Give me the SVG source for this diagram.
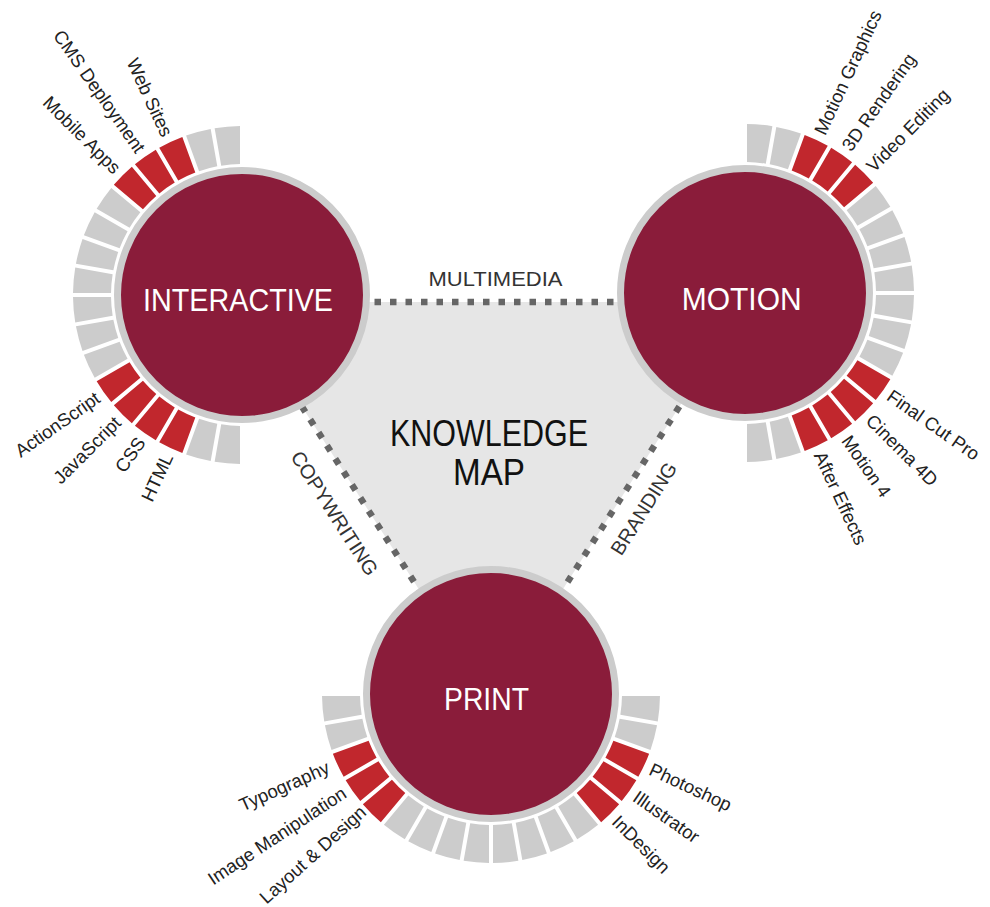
<svg xmlns="http://www.w3.org/2000/svg" xmlns:xlink="http://www.w3.org/1999/xlink" width="990" height="907" viewBox="0 0 990 907">
<style>
.hub{fill:#8a1c3a;stroke:#cccccc;stroke-width:7}
.hubtxt{font-family:"Liberation Sans",Arial,sans-serif;font-size:31px;fill:#ffffff;text-anchor:middle}
.g{fill:#cccccc}
.r{fill:#c1272d}
.lbl{font-family:"Liberation Sans",Arial,sans-serif;font-size:18.5px;fill:#222222}
.end{text-anchor:end}
.dash{stroke:#666666;stroke-width:6.5;stroke-dasharray:6.5 9;fill:none}
.edge{font-family:"Liberation Sans",Arial,sans-serif;font-size:20px;fill:#333333;text-anchor:middle}
.title{font-family:"Liberation Sans",Arial,sans-serif;font-size:36px;fill:#111111;text-anchor:middle}
</style>
<defs>
<path id="seg" d="M130.660 -9.425 L168.518 -12.737 A169 169 0 0 1 168.518 12.737 L130.660 9.425 A131 131 0 0 0 130.660 -9.425 Z"/>
</defs>
<rect width="990" height="907" fill="#ffffff"/>
<g id="connectors">
<polygon points="235,302 746,302 491,702" fill="#e6e6e6"/>
<line class="dash" x1="235" y1="302" x2="746" y2="302"/>
<line class="dash" x1="235" y1="302" x2="491" y2="702"/>
<line class="dash" x1="746" y1="302" x2="491" y2="702"/>
<text class="edge" x="495.5" y="285.7" textLength="134" lengthAdjust="spacingAndGlyphs">MULTIMEDIA</text>
<text class="edge" transform="translate(328.7 517) rotate(57.3)" x="0" y="0">COPYWRITING</text>
<text class="edge" transform="translate(649.6 512.3) rotate(-57.5)" x="0" y="0">BRANDING</text>
</g>
<g id="title">
<text class="title" x="489" y="446" textLength="198" lengthAdjust="spacingAndGlyphs">KNOWLEDGE</text>
<text class="title" x="489" y="485" textLength="72" lengthAdjust="spacingAndGlyphs">MAP</text>
</g>
<g id="interactive">
<circle class="hub" cx="242" cy="295" r="124.5"/>
<text class="hubtxt" x="238" y="310.7" textLength="190" lengthAdjust="spacingAndGlyphs">INTERACTIVE</text>
<g transform="translate(242 295)">
<use href="#seg" class="g" transform="rotate(265)"/>
<use href="#seg" class="g" transform="rotate(255)"/>
<use href="#seg" class="r" transform="rotate(245)"/>
<use href="#seg" class="r" transform="rotate(235)"/>
<use href="#seg" class="r" transform="rotate(225)"/>
<use href="#seg" class="g" transform="rotate(215)"/>
<use href="#seg" class="g" transform="rotate(205)"/>
<use href="#seg" class="g" transform="rotate(195)"/>
<use href="#seg" class="g" transform="rotate(185)"/>
<use href="#seg" class="g" transform="rotate(175)"/>
<use href="#seg" class="g" transform="rotate(165)"/>
<use href="#seg" class="g" transform="rotate(155)"/>
<use href="#seg" class="r" transform="rotate(145)"/>
<use href="#seg" class="r" transform="rotate(135)"/>
<use href="#seg" class="r" transform="rotate(125)"/>
<use href="#seg" class="r" transform="rotate(115)"/>
<use href="#seg" class="g" transform="rotate(105)"/>
<use href="#seg" class="g" transform="rotate(95)"/>
<text class="lbl end" transform="rotate(245) translate(176 0) rotate(180)" dy="0.35em">Web Sites</text>
<text class="lbl end" transform="rotate(235) translate(176 0) rotate(180)" dy="0.35em">CMS Deployment</text>
<text class="lbl end" transform="rotate(225) translate(176 0) rotate(180)" dy="0.35em">Mobile Apps</text>
<text class="lbl end" transform="rotate(145) translate(176 0) rotate(180)" dy="0.35em">ActionScript</text>
<text class="lbl end" transform="rotate(135) translate(176 0) rotate(180)" dy="0.35em">JavaScript</text>
<text class="lbl end" transform="rotate(125) translate(176 0) rotate(180)" dy="0.35em">CSS</text>
<text class="lbl end" transform="rotate(115) translate(176 0) rotate(180)" dy="0.35em">HTML</text>
</g>
</g>
<g id="motion">
<circle class="hub" cx="745" cy="293" r="124.5"/>
<text class="hubtxt" x="741.7" y="310" textLength="120" lengthAdjust="spacingAndGlyphs">MOTION</text>
<g transform="translate(745 293)">
<use href="#seg" class="g" transform="rotate(-85)"/>
<use href="#seg" class="g" transform="rotate(-75)"/>
<use href="#seg" class="r" transform="rotate(-65)"/>
<use href="#seg" class="r" transform="rotate(-55)"/>
<use href="#seg" class="r" transform="rotate(-45)"/>
<use href="#seg" class="g" transform="rotate(-35)"/>
<use href="#seg" class="g" transform="rotate(-25)"/>
<use href="#seg" class="g" transform="rotate(-15)"/>
<use href="#seg" class="g" transform="rotate(-5)"/>
<use href="#seg" class="g" transform="rotate(5)"/>
<use href="#seg" class="g" transform="rotate(15)"/>
<use href="#seg" class="g" transform="rotate(25)"/>
<use href="#seg" class="r" transform="rotate(35)"/>
<use href="#seg" class="r" transform="rotate(45)"/>
<use href="#seg" class="r" transform="rotate(55)"/>
<use href="#seg" class="r" transform="rotate(65)"/>
<use href="#seg" class="g" transform="rotate(75)"/>
<use href="#seg" class="g" transform="rotate(85)"/>
<text class="lbl" transform="rotate(-65) translate(176 0)" dy="0.35em">Motion Graphics</text>
<text class="lbl" transform="rotate(-55) translate(176 0)" dy="0.35em">3D Rendering</text>
<text class="lbl" transform="rotate(-45) translate(176 0)" dy="0.35em">Video Editing</text>
<text class="lbl" transform="rotate(35) translate(176 0)" dy="0.35em">Final Cut Pro</text>
<text class="lbl" transform="rotate(45) translate(176 0)" dy="0.35em">Cinema 4D</text>
<text class="lbl" transform="rotate(55) translate(176 0)" dy="0.35em">Motion 4</text>
<text class="lbl" transform="rotate(65) translate(176 0)" dy="0.35em">After Effects</text>
</g>
</g>
<g id="print">
<circle class="hub" cx="491" cy="694" r="124.5"/>
<text class="hubtxt" x="486.5" y="710" textLength="85" lengthAdjust="spacingAndGlyphs">PRINT</text>
<g transform="translate(491 694)">
<use href="#seg" class="g" transform="rotate(175)"/>
<use href="#seg" class="g" transform="rotate(165)"/>
<use href="#seg" class="r" transform="rotate(155)"/>
<use href="#seg" class="r" transform="rotate(145)"/>
<use href="#seg" class="r" transform="rotate(135)"/>
<use href="#seg" class="g" transform="rotate(125)"/>
<use href="#seg" class="g" transform="rotate(115)"/>
<use href="#seg" class="g" transform="rotate(105)"/>
<use href="#seg" class="g" transform="rotate(95)"/>
<use href="#seg" class="g" transform="rotate(85)"/>
<use href="#seg" class="g" transform="rotate(75)"/>
<use href="#seg" class="g" transform="rotate(65)"/>
<use href="#seg" class="g" transform="rotate(55)"/>
<use href="#seg" class="r" transform="rotate(45)"/>
<use href="#seg" class="r" transform="rotate(35)"/>
<use href="#seg" class="r" transform="rotate(25)"/>
<use href="#seg" class="g" transform="rotate(15)"/>
<use href="#seg" class="g" transform="rotate(5)"/>
<text class="lbl end" transform="rotate(156) translate(178 0) rotate(180)" dy="0.35em">Typography</text>
<text class="lbl end" transform="rotate(146.5) translate(176 0) rotate(180)" dy="0.35em">Image Manipulation</text>
<text class="lbl end" transform="rotate(138) translate(172 0) rotate(180)" dy="0.35em">Layout &amp; Design</text>
<text class="lbl" transform="rotate(45) translate(176 0)" dy="0.35em">InDesign</text>
<text class="lbl" transform="rotate(35) translate(176 0)" dy="0.35em">Illustrator</text>
<text class="lbl" transform="rotate(25) translate(176 0)" dy="0.35em">Photoshop</text>
</g>
</g>
</svg>
